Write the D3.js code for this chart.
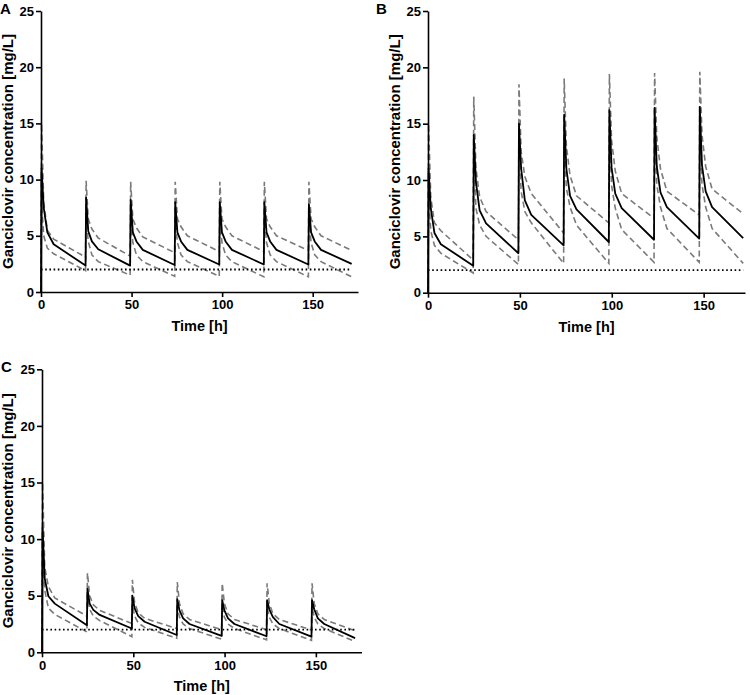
<!DOCTYPE html>
<html>
<head>
<meta charset="utf-8">
<script src="https://cdn.jsdelivr.net/npm/d3@7"></script>
<style>
  html, body { margin: 0; padding: 0; background: #fff; }
  svg { display: block; }
  text { font-family: "Liberation Sans", Arial, Helvetica, sans-serif; font-weight: bold; fill: #000; }
</style>
</head>
<body>
<svg id="chart" width="750" height="695"></svg>
<script>
// ---- data ----
const hours = [0,0.3,1.5,3.5,7, 24.6,24.9,26.1,28.1,31.6, 49.2,49.5,50.7,52.7,56.2,
  73.8,74.1,75.3,77.3,80.8, 98.4,98.7,99.9,101.9,105.4, 123,123.3,124.5,126.5,130,
  147.6,147.9,149.1,151.1,154.6, 171.5];

const medianA = [0,11.0,7.5,5.3,4.25, 2.35,8.4,5.4,4.5,3.8, 2.35,8.2,5.3,4.5,3.75, 2.4,8.0,5.3,4.5,3.75,
  2.45,8.0,5.3,4.5,3.75, 2.45,8.0,5.3,4.5,3.75, 2.45,7.8,5.3,4.5,3.75, 2.5];
const upperA = [0,15.0,8.0,5.5,4.7, 3.1,9.9,6.5,5.6,4.8, 3.2,9.8,6.5,5.7,4.9, 3.5,9.8,6.5,5.8,5.0,
  3.6,9.8,6.5,5.8,5.0, 3.6,9.8,6.5,5.8,5.0, 3.7,9.8,6.5,5.8,5.0, 3.7];
const lowerA = [0,8.0,5.0,3.9,3.4, 1.9,6.5,4.5,3.3,2.7, 1.5,6.5,4.4,3.3,2.7, 1.4,6.5,4.4,3.3,2.7,
  1.4,6.5,4.4,3.3,2.7, 1.35,6.5,4.4,3.3,2.7, 1.35,6.5,4.4,3.3,2.7, 1.35];

const medianB = [0,11.0,7.5,5.3,4.3, 2.4,14.0,9.8,7.3,6.15, 3.5,15.0,11.0,8.2,6.9, 4.2,15.8,11.0,8.6,7.4,
  4.5,16.2,11.1,8.8,7.5, 4.7,16.4,11.2,8.9,7.6, 4.8,16.5,11.3,9.0,7.6, 4.85];
const upperB = [0,15.0,8.5,6.2,5.5, 2.9,17.4,11.0,8.5,7.2, 4.7,18.5,12.5,10.3,8.8, 5.3,19.0,13.0,10.4,8.6,
  6.2,19.4,13.5,10.8,8.8, 6.6,19.5,13.8,11.0,9.0, 6.9,19.6,14.0,11.2,9.2, 7.0];
const lowerB = [0,9.0,5.5,4.2,3.5, 1.75,12.0,7.5,6.0,5.0, 2.5,13.0,9.0,7.2,6.2, 2.6,13.5,9.3,7.6,6.0,
  2.6,14.0,9.5,7.5,5.6, 2.7,14.2,9.6,7.6,5.7, 2.7,14.3,9.6,7.6,5.7, 2.6];

const medianC = [0,11.0,6.5,4.95,4.3, 2.4,5.6,4.3,3.75,3.3, 2.1,5.0,3.9,3.2,2.7, 1.53,4.7,3.7,3.0,2.5,
  1.45,4.6,3.7,3.0,2.5, 1.42,4.6,3.8,3.1,2.5, 1.38,4.6,3.8,3.0,2.5, 1.25];
const upperC = [0,15.0,7.5,5.8,4.8, 3.2,7.0,5.0,4.2,3.7, 2.55,6.4,4.4,3.5,3.0, 2.1,6.2,4.3,3.4,2.9,
  2.0,6.1,4.3,3.4,2.9, 2.0,6.1,4.3,3.4,2.9, 1.97,6.1,4.3,3.4,2.9, 1.9];
const lowerC = [0,9.0,5.5,3.9,3.35, 1.8,5.0,3.8,3.2,2.8, 1.38,4.2,3.2,2.6,2.2, 1.24,4.0,3.1,2.5,2.1,
  1.15,4.0,3.1,2.5,2.1, 1.1,4.0,3.1,2.5,2.1, 1.05,4.0,3.1,2.5,2.1, 0.95];

const threshold = 2;           // mg/L target line
const thresholdSpan = [0, 171.5];
const yTicks = [0, 5, 10, 15, 20, 25];
const xTicks = [0, 50, 100, 150];
const panelLetters = ["A", "B", "C"];
const yTitle = "Ganciclovir concentration [mg/L]";
const xTitle = "Time [h]";

// ---- layout ----
const panels = [
  { letter: panelLetters[0], med: medianA, up: upperA, lo: lowerA,
    x0: 41, x1: 358, xMax: 175, yBot: 292, yTop: 11, letterX: 0, letterY: 14, yTitleX: 13 },
  { letter: panelLetters[1], med: medianB, up: upperB, lo: lowerB,
    x0: 428, x1: 745, xMax: 172.5, yBot: 292.7, yTop: 11, letterX: 376, letterY: 14, yTitleX: 400 },
  { letter: panelLetters[2], med: medianC, up: upperC, lo: lowerC,
    x0: 42, x1: 361.5, xMax: 175, yBot: 652.3, yTop: 369.3, letterX: 1, letterY: 372, yTitleX: 13 }
];

const svg = d3.select("#chart");

panels.forEach(p => {
  const x = d3.scaleLinear().domain([0, p.xMax]).range([p.x0, p.x1]);
  const y = d3.scaleLinear().domain([0, 25]).range([p.yBot, p.yTop]);
  const g = svg.append("g");

  const line = d3.line().x((d, i) => x(hours[i])).y(d => y(d));

  // percentile lines (dashed grey)
  [p.up, p.lo].forEach(arr => {
    g.append("path").datum(arr).attr("d", line)
      .attr("fill", "none").attr("stroke", "#7a7a7a")
      .attr("stroke-width", 1.6).attr("stroke-dasharray", "6,3.5");
  });
  // median (solid black)
  g.append("path").datum(p.med).attr("d", line)
    .attr("fill", "none").attr("stroke", "#000").attr("stroke-width", 1.8)
    .attr("stroke-linejoin", "round");

  // threshold dotted line
  g.append("line")
    .attr("x1", x(thresholdSpan[0])).attr("x2", x(thresholdSpan[1]))
    .attr("y1", y(threshold)).attr("y2", y(threshold))
    .attr("stroke", "#000").attr("stroke-width", 1.8).attr("stroke-dasharray", "1.6,2.6");

  // axes
  const yAxis = g.append("g").attr("transform", `translate(${p.x0},0)`)
    .call(d3.axisLeft(y).tickValues(yTicks).tickSize(5).tickPadding(2).tickSizeOuter(0));
  const xAxis = g.append("g").attr("transform", `translate(0,${p.yBot})`)
    .call(d3.axisBottom(x).tickValues(xTicks).tickSize(5).tickPadding(3).tickSizeOuter(0));
  [yAxis, xAxis].forEach(a => {
    a.select(".domain").attr("stroke", "#000").attr("stroke-width", 1.6);
    a.selectAll(".tick line").attr("stroke", "#000").attr("stroke-width", 1.6);
    a.selectAll(".tick text").attr("font-size", 13).attr("font-weight", "bold")
      .attr("font-family", "'Liberation Sans', Arial, sans-serif").attr("fill", "#000");
  });

  // titles
  g.append("text").attr("x", (p.x0 + p.x1) / 2).attr("y", p.yBot + 39)
    .attr("text-anchor", "middle").attr("font-size", 14.5).text(xTitle);
  g.append("text")
    .attr("transform", `translate(${p.yTitleX},${(p.yBot + p.yTop) / 2}) rotate(-90)`)
    .attr("text-anchor", "middle").attr("font-size", 15).text(yTitle);
  g.append("text").attr("x", p.letterX).attr("y", p.letterY)
    .attr("font-size", 15).text(p.letter);
});
</script>
</body>
</html>
